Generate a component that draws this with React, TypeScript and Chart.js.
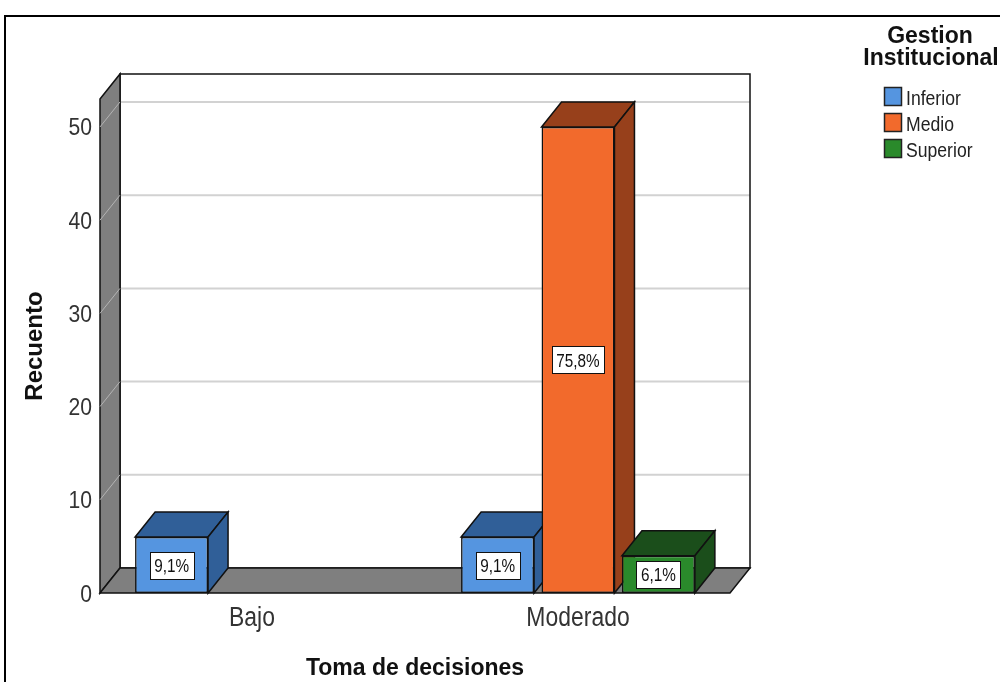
import React, { useEffect, useRef } from "react";
import { Chart, registerables } from "chart.js";

Chart.register(...registerables);

// ---- data ----
const categories = ["Bajo", "Moderado"];
const seriesNames = ["Inferior", "Medio", "Superior"];
const inferiorCounts: (number | null)[] = [6, 6];
const medioCounts: (number | null)[] = [null, 50];
const superiorCounts: (number | null)[] = [null, 4];
const inferiorPct: (string | null)[] = ["9,1%", "9,1%"];
const medioPct: (string | null)[] = [null, "75,8%"];
const superiorPct: (string | null)[] = [null, "6,1%"];
const yTicks = [0, 10, 20, 30, 40, 50];
const yMax = 53;
const xTitle = "Toma de decisiones";
const yTitle = "Recuento";
const legendTitle = ["Gestion", "Institucional"];

// ---- styles ----
const frontColors = ["#5595e0", "#f26a2c", "#2a8a2b"];
const darkColors = ["#305f98", "#97401b", "#1b4e1b"];
const SANS = "'Liberation Sans', Arial, sans-serif";
const DX = 20;
const DY = -25;
const WALL_GRAY = "#7f7f7f";

const pctLists = [inferiorPct, medioPct, superiorPct];

function narrowText(
  ctx: CanvasRenderingContext2D,
  text: string,
  x: number,
  y: number,
  size: number,
  squeeze: number,
  align: CanvasTextAlign,
  color: string
) {
  ctx.save();
  ctx.font = `${size}px ${SANS}`;
  ctx.textAlign = align;
  ctx.textBaseline = "alphabetic";
  ctx.fillStyle = color;
  ctx.translate(x, y);
  ctx.scale(squeeze, 1);
  ctx.fillText(text, 0, 0);
  ctx.restore();
}

const threeD = {
  id: "threeD",
  beforeDatasetsDraw(chart: any) {
    const ctx = chart.ctx as CanvasRenderingContext2D;
    const ca = chart.chartArea;
    const ys = chart.scales.y;
    const xs = chart.scales.x;
    const FL = ca.left + 11;
    const FR = ca.right - 11;
    const yb = ys.getPixelForValue(0);
    const yt = ca.top;
    ctx.save();
    ctx.lineJoin = "miter";
    // back wall
    ctx.fillStyle = "#ffffff";
    ctx.fillRect(FL + DX, yt + DY, FR - FL, yb - yt);
    // gridlines on back wall
    ctx.strokeStyle = "#d2d2d2";
    ctx.lineWidth = 2;
    yTicks.forEach((v) => {
      if (v === 0) return;
      const py = ys.getPixelForValue(v) + DY;
      ctx.beginPath();
      ctx.moveTo(FL + DX, py);
      ctx.lineTo(FR + DX, py);
      ctx.stroke();
    });
    ctx.strokeStyle = "#111";
    ctx.lineWidth = 1.5;
    ctx.strokeRect(FL + DX, yt + DY, FR - FL, yb - yt);
    // left wall
    ctx.beginPath();
    ctx.moveTo(FL, yt);
    ctx.lineTo(FL + DX, yt + DY);
    ctx.lineTo(FL + DX, yb + DY);
    ctx.lineTo(FL, yb);
    ctx.closePath();
    ctx.fillStyle = WALL_GRAY;
    ctx.fill();
    ctx.stroke();
    ctx.strokeStyle = "#b4b4b4";
    ctx.lineWidth = 1;
    yTicks.forEach((v) => {
      if (v === 0) return;
      const py = ys.getPixelForValue(v);
      ctx.beginPath();
      ctx.moveTo(FL, py);
      ctx.lineTo(FL + DX, py + DY);
      ctx.stroke();
    });
    // floor
    ctx.beginPath();
    ctx.moveTo(FL, yb);
    ctx.lineTo(FL + DX, yb + DY);
    ctx.lineTo(FR + DX, yb + DY);
    ctx.lineTo(FR, yb);
    ctx.closePath();
    ctx.fillStyle = WALL_GRAY;
    ctx.fill();
    ctx.strokeStyle = "#111";
    ctx.lineWidth = 1.5;
    ctx.stroke();

    // tick labels (from the library's scales)
    yTicks.forEach((v) => {
      const py = ys.getPixelForValue(v);
      narrowText(ctx, String(v), FL - 8, py + 8.5, 24, 0.88, "right", "#333");
    });
    categories.forEach((c, i) => {
      const px = xs.getPixelForValue(i);
      narrowText(ctx, c, px, yb + 33, 27, 0.85, "center", "#333");
    });

    // bars, left to right
    const items: any[] = [];
    chart.data.datasets.forEach((ds: any, di: number) => {
      const meta = chart.getDatasetMeta(di);
      meta.data.forEach((el: any, j: number) => {
        if (ds.data[j] === null || ds.data[j] === undefined) return;
        items.push({ el, di, j });
      });
    });
    items.sort((a, b) => a.el.x - b.el.x);
    items.forEach(({ el, di }) => {
      const p = el.getProps(["x", "y", "base", "width"], true);
      const l = p.x - p.width / 2;
      const r = p.x + p.width / 2;
      const t = p.y;
      const b = p.base;
      ctx.fillStyle = darkColors[di];
      ctx.strokeStyle = "#111";
      ctx.lineWidth = 1.5;
      ctx.beginPath();
      ctx.moveTo(l, t);
      ctx.lineTo(l + DX, t + DY);
      ctx.lineTo(r + DX, t + DY);
      ctx.lineTo(r, t);
      ctx.closePath();
      ctx.fill();
      ctx.stroke();
      ctx.beginPath();
      ctx.moveTo(r, t);
      ctx.lineTo(r + DX, t + DY);
      ctx.lineTo(r + DX, b + DY);
      ctx.lineTo(r, b);
      ctx.closePath();
      ctx.fill();
      ctx.stroke();
      el.draw(ctx, ca);
    });
    // value labels
    items.forEach(({ el, di, j }) => {
      const txt = pctLists[di][j];
      if (!txt) return;
      const p = el.getProps(["x", "y", "base"], true);
      const cy = (p.y + p.base) / 2;
      ctx.font = `18px ${SANS}`;
      const tw = ctx.measureText(txt).width * 0.85;
      const bw = Math.round(tw + 9);
      const bh = 27;
      const bx = Math.round(p.x - bw / 2) + 0.5;
      const by = Math.round(cy - bh / 2) + 0.5;
      ctx.fillStyle = "#fff";
      ctx.fillRect(bx, by, bw, bh);
      ctx.strokeStyle = "#111";
      ctx.lineWidth = 1;
      ctx.strokeRect(bx, by, bw, bh);
      narrowText(ctx, txt, p.x, cy + 7, 18, 0.85, "center", "#111");
    });
    ctx.restore();
    return false;
  },
  afterDraw(chart: any) {
    const ctx = chart.ctx as CanvasRenderingContext2D;
    ctx.save();
    // outer frame
    ctx.strokeStyle = "#000";
    ctx.lineWidth = 2;
    ctx.beginPath();
    ctx.moveTo(5, 700);
    ctx.lineTo(5, 16);
    ctx.lineTo(1010, 16);
    ctx.stroke();
    // legend title
    ctx.fillStyle = "#111";
    ctx.textAlign = "center";
    ctx.textBaseline = "alphabetic";
    ctx.font = `bold 23px ${SANS}`;
    ctx.fillText(legendTitle[0], 930, 43);
    ctx.fillText(legendTitle[1], 931, 65);
    // legend items
    chart.data.datasets.forEach((ds: any, i: number) => {
      const top = 87.5 + i * 26;
      ctx.fillStyle = ds.backgroundColor;
      ctx.fillRect(884.5, top, 17, 18);
      ctx.strokeStyle = "#222";
      ctx.lineWidth = 1.5;
      ctx.strokeRect(884.5, top, 17, 18);
      narrowText(ctx, ds.label, 906, top + 17.5, 20, 0.88, "left", "#222");
    });
    ctx.restore();
  },
};

export default function App() {
  const ref = useRef<HTMLCanvasElement | null>(null);
  useEffect(() => {
    if (!ref.current) return;
    const countLists = [inferiorCounts, medioCounts, superiorCounts];
    const chart = new Chart(ref.current, {
      type: "bar",
      data: {
        labels: categories,
        datasets: seriesNames.map((name, i) => ({
          label: name,
          data: countLists[i],
          backgroundColor: frontColors[i],
          borderColor: "#111",
          borderWidth: 1.5,
          borderSkipped: false,
          barPercentage: 0.907,
          categoryPercentage: 0.74,
        })),
      },
      options: {
        responsive: false,
        animation: false,
        devicePixelRatio: 1,
        layout: { padding: { top: 99, right: 259, bottom: 0, left: 0 } },
        plugins: { legend: { display: false }, tooltip: { enabled: false } },
        scales: {
          x: {
            type: "category",
            offset: true,
            grid: { display: false, drawTicks: false },
            border: { display: false },
            ticks: { display: false },
            title: { display: true, text: xTitle, color: "#111", padding: { top: 0, bottom: 0 }, font: { family: SANS, size: 23, weight: "bold" } },
            afterFit: (s: any) => { s.height = 89; },
          },
          y: {
            min: 0,
            max: yMax,
            grid: { display: false, drawTicks: false },
            border: { display: false },
            afterBuildTicks: (s: any) => { s.ticks = yTicks.map((v) => ({ value: v })); },
            ticks: { display: false },
            title: { display: true, text: yTitle, color: "#111", padding: { top: 21, bottom: 0 }, font: { family: SANS, size: 24, weight: "bold" } },
            afterFit: (s: any) => { s.width = 89; },
          },
        },
      },
      plugins: [threeD],
    } as any);
    return () => chart.destroy();
  }, []);
  return (
    <div style={{ position: "absolute", left: 0, top: 0, width: 1000, height: 682, background: "#fff" }}>
      <canvas ref={ref} width={1000} height={682} />
    </div>
  );
}
